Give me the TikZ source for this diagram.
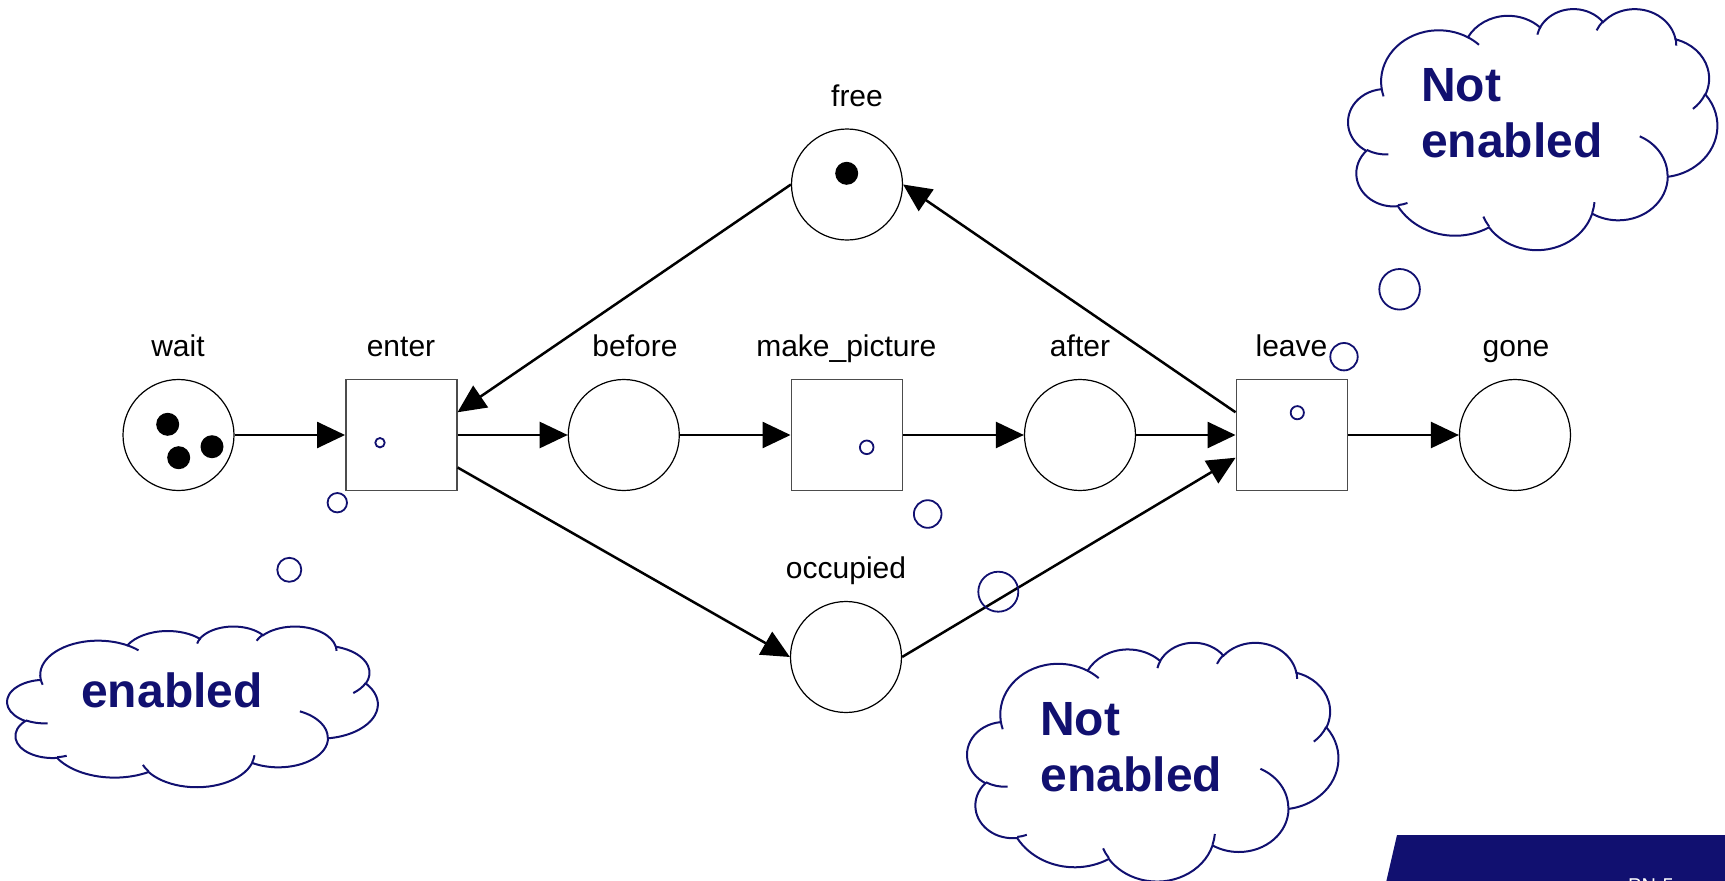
\documentclass[tikz,border=0pt]{standalone}
\usepackage{fontspec}
\setmainfont{Liberation Sans}
\usetikzlibrary{arrows.meta}
\definecolor{navy}{RGB}{17,16,112}

% one elliptic arc of the cloud outline: wR, hR, start angle, sweep (visual angles)
\newcommand\carc[4]{arc[x radius={0.1pt*#1}, y radius={0.1pt*#2}, start angle={cpa(#3,#1,#2)}, delta angle={mod(cpa(#3+#4,#1,#2)-cpa(#3,#1,#2)+720,360)}]}

% thought cloud filling the box with top-left corner (#1,#2), width #3, height #4
\newcommand\thoughtcloud[4]{%
  \begin{scope}[shift={(#1,#2)}, y=1pt, xscale=#3/4320, yscale=-#4/4320]
    \filldraw[cloudline, fill=white] (390,1437)
      \carc{6753}{9190}{-190.4875}{123.7805}
      \carc{5333}{7267}{-144.1024}{89.9452}
      \carc{4365}{5945}{-145.8079}{99.7230}
      \carc{4857}{6595}{-130.9861}{117.2417}
      \carc{5333}{7273}{-78.7089}{109.0269}
      \carc{6775}{9220}{-46.2673}{130.2690}
      \carc{5785}{7867}{0.6250}{114.0333}
      \carc{6752}{9215}{22.4516}{115.1726}
      \carc{7720}{10543}{66.2426}{75.7110}
      \carc{4360}{5918}{-274.9421}{146.7356}
      \carc{4345}{5945}{-246.8285}{152.5189} -- cycle;
    \draw[cloudline]
      (469.3,2617.7) \carc{4345}{5945}{86.742}{26.4295}
      (692.8,3489.9) \carc{4360}{5918}{73.6105}{11.4475}
      (1647.8,3909) \carc{6752}{9215}{137.6242}{14.0811}
      (2882.7,3475.1) \carc{6752}{9215}{6.4533}{15.9984}
      (3412.9,2295.4) \carc{5785}{7867}{-70.2924}{70.9174}
      (4179.8,1535.4) \carc{5333}{7273}{30.318}{27.7515}
      (3832.4,542.6) \carc{4857}{6595}{-13.7443}{14.8589}
      (2907.8,395.2) \carc{4857}{6595}{-149.1815}{18.1954}
      (2214.1,472) \carc{4365}{5945}{-163.4943}{17.6864}
      (1400,519.2) \carc{6753}{9190}{-66.707}{12.3194}
      (412.7,1578.9) \carc{6753}{9190}{157.6544}{11.8582};
  \end{scope}}

\begin{document}
\begin{tikzpicture}[x=1pt, y=-1pt,
  declare function={cpa(\t,\a,\b)=atan2(\a*sin(\t),\b*cos(\t));},
  place/.style={circle, draw, line width=1.2pt, minimum size=111pt, inner sep=0pt},
  trans/.style={rectangle, draw=black!70, line width=1.5pt, minimum size=111pt, inner sep=0pt},
  flow/.style={line width=2.5pt, -{Triangle[length=28pt,width=26pt]}},
  lbl/.style={anchor=base, inner sep=0pt, font=\fontsize{30}{36}\selectfont},
  token/.style={fill=black},
  mark circle/.style={draw=navy, line width=1.8pt},
  cloudline/.style={draw=navy, line width=2pt},
  cloudtext/.style={inner sep=0pt, text=navy, font=\fontsize{48}{56}\selectfont\bfseries}]
\useasboundingbox (0,0) rectangle (1725,881);

% places and transitions
\node[place] (wait)   at (178.5,435) {};
\node[trans] (enter)  at (401.3,435) {};
\node[place] (before) at (623.8,435) {};
\node[trans] (make)   at (846.8,435) {};
\node[place] (after)  at (1080,435) {};
\node[trans] (leave)  at (1291.8,435) {};
\node[place] (gone)   at (1515,435) {};
\node[place] (free)   at (847,184.5) {};
\node[place] (occ)    at (846,657) {};

% labels
\node[lbl] (lwait)   at (178,356.7) {wait};
\node[lbl] (lenter)  at (401,356.7) {enter};
\node[lbl] (lbefore) at (635,356.7) {before};
\node[lbl] (lmake)   at (846.3,356.7) {make\_picture};
\node[lbl] (lafter)  at (1080,356.7) {after};
\node[lbl] (lleave)  at (1291.5,356.7) {leave};
\node[lbl] (lgone)   at (1516,356.7) {gone};
\node[lbl] (lfree)   at (857,106) {free};
\node[lbl] (locc)    at (846,578.5) {occupied};

% tokens
\fill[token] (167.7,424.3) circle[radius=11.5pt];
\fill[token] (178.7,457.7) circle[radius=11.5pt];
\fill[token] (212,446.7) circle[radius=11.5pt];
\fill[token] (846.7,173.3) circle[radius=11.5pt];

% arcs of the net
\draw[flow] (wait) -- (enter);
\draw[flow] (enter) -- (before);
\draw[flow] (before) -- (make);
\draw[flow] (make) -- (after);
\draw[flow] (after) -- (leave);
\draw[flow] (leave) -- (gone);
\draw[flow] (free.west) -- (enter.22.8);
\draw[flow] (leave.158.75) -- (free.east);
\draw[flow] (enter.-30.6) -- (occ.west);
\draw[flow] (occ.east) -- (leave.202.4);

% thought bubbles
\draw[mark circle] (380,442.7) circle[radius=4.7pt];
\draw[mark circle] (337.3,502.7) circle[radius=9.7pt];
\draw[mark circle] (289.3,569.8) circle[radius=12pt];
\draw[mark circle] (866.7,447.3) circle[radius=6.8pt];
\draw[mark circle] (927.7,514) circle[radius=13.8pt];
\draw[mark circle] (998.3,591.7) circle[radius=20pt];
\draw[mark circle] (1297.3,412.7) circle[radius=6.6pt];
\draw[mark circle] (1344,356.7) circle[radius=13.7pt];
\draw[mark circle] (1399.6,289.3) circle[radius=20.3pt];

% clouds
\thoughtcloud{7.3}{626}{370.4}{160.7}
\thoughtcloud{1348.3}{8.3}{369}{241}
\thoughtcloud{967.3}{642}{371}{238.7}

\node[cloudtext, anchor=base] (c1) at (172,707) {enabled};
\node[cloudtext, anchor=base west] (c2a) at (1421,101) {Not};
\node[cloudtext, anchor=base west] (c2b) at (1421,157.3) {enabled};
\node[cloudtext, anchor=base west] (c3a) at (1040,735) {Not};
\node[cloudtext, anchor=base west] (c3b) at (1040.5,791.7) {enabled};

% footer banner
\begin{scope}
  \clip (0,0) rectangle (1725,881);
  \fill[navy] (1397,835) -- (1725,835) -- (1725,900) -- (1382,900) -- cycle;
  \node[anchor=base west, inner sep=0pt, text=white, font=\fontsize{20}{24}\selectfont] (pn) at (1628,892) {PN-5};
\end{scope}
\end{tikzpicture}
\end{document}
